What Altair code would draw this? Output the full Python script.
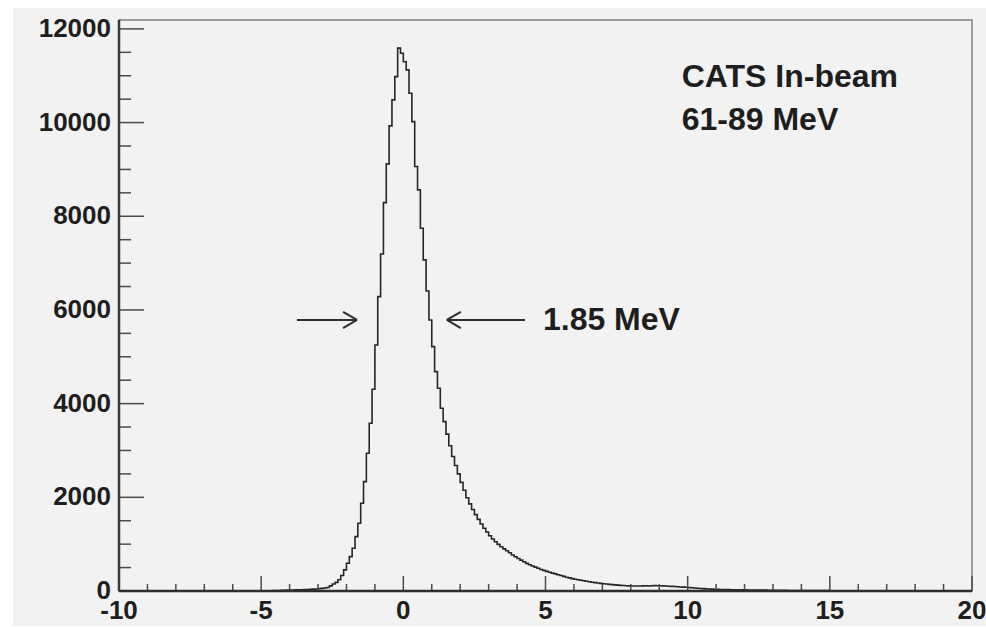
import altair as alt
import numpy as np
import pandas as pd

FONT = "Liberation Sans"

# Energy spectrum, 0.1 MeV bins, first bin starts at -5.0 MeV
bin_start = -5.0
bin_width = 0.1
counts = [
    3, 4, 5, 6, 8, 10, 12, 14, 16, 18,                                   # -5.0 .. -4.1
    20, 22, 24, 26, 28, 30, 33, 36, 40, 44,                              # -4.0 .. -3.1
    50, 56, 64, 76, 110, 150, 185, 240, 330, 450,                        # -3.0 .. -2.1
    592, 733, 912, 1160, 1446, 1873, 2334, 2940, 3581, 4307,             # -2.0 .. -1.1
    5253, 6285, 7196, 8292, 9118, 9930, 10485, 10982, 11590, 11480,      # -1.0 .. -0.1
    11300, 11125, 10627, 10021, 9061, 8563, 7745, 7068, 6406, 5787,      #  0.0 ..  0.9
    5217, 4683, 4328, 3901, 3615, 3350, 3100, 2870, 2680, 2500,          #  1.0 ..  1.9
    2320, 2150, 1990, 1860, 1740, 1630, 1530, 1430, 1340, 1260,          #  2.0 ..  2.9
    1180, 1110, 1050, 995, 945, 900, 860, 815, 770, 730,                 #  3.0 ..  3.9
    695, 660, 625, 590, 560, 535, 510, 485, 460, 440,                    #  4.0 ..  4.9
    420, 400, 382, 365, 348, 330, 312, 295, 280, 265,                    #  5.0 ..  5.9
    252, 240, 228, 218, 208, 198, 188, 178, 170, 162,                    #  6.0 ..  6.9
    155, 148, 142, 136, 130, 125, 120, 116, 113, 110,                    #  7.0 ..  7.9
    108, 107, 108, 106, 109, 111, 108, 112, 114, 112,                    #  8.0 ..  8.9
    113, 110, 107, 103, 99, 95, 90, 86, 82, 79,                          #  9.0 ..  9.9
    76, 70, 64, 58, 54, 50, 46, 42, 40, 37,                              # 10.0 .. 10.9
    35, 33, 32, 30, 29, 28, 27, 26, 25, 24,                              # 11.0 .. 11.9
    23, 22, 22, 21, 20, 19, 18, 18, 17, 16,                              # 12.0 .. 12.9
    15, 15, 14, 13, 13, 12, 12, 11, 11, 10,                              # 13.0 .. 13.9
    10, 9, 9, 9, 8, 8, 8, 7, 7, 7,                                       # 14.0 .. 14.9
]

x_major = [-10, -5, 0, 5, 10, 15, 20]
x_minor = [-9, -8, -7, -6, -4, -3, -2, -1, 1, 2, 3, 4, 6, 7, 8, 9,
           11, 12, 13, 14, 16, 17, 18, 19]
y_major = [0, 2000, 4000, 6000, 8000, 10000, 12000]
y_minor = [500, 1000, 1500, 2500, 3000, 3500, 4500, 5000, 5500, 6500, 7000,
           7500, 8500, 9000, 9500, 10500, 11000, 11500]

# FWHM arrows (data units): shaft start, tip, head length, head half-height
arrow_y = 5786
left_arrow = (-3.74, -1.63)
right_arrow = (4.28, 1.53)
head_dx = 0.49
head_dy = 175

labels_text = ["1.85 MeV", "CATS In-beam", "61-89 MeV"]
labels_x = [4.91, 9.79, 9.79]
labels_y = [5573, 10762, 9843]

W, H = 853, 571
INK = "#1e1e1e"
TICK = "#4a4a4a"

# ---- histogram outline (step curve) ----
edges = np.round(bin_start + bin_width * np.arange(len(counts)), 2)
hx = [-10.0] + list(edges) + [round(edges[-1] + bin_width, 2), 20.0]
hy = [0] + counts + [0, 0]
hist_df = pd.DataFrame({"energy": hx, "count": hy})

xscale = alt.Scale(domain=[-10, 20], nice=False, zero=False)
yscale = alt.Scale(domain=[0, 12190], nice=False, zero=True)

hist = alt.Chart(hist_df).mark_line(
    interpolate="step-after", color="#262626", strokeWidth=1.6
).encode(
    x=alt.X("energy:Q", scale=xscale, axis=None),
    y=alt.Y("count:Q", scale=yscale, axis=None),
)

# ---- inward-pointing ticks ----
def yticks(vals, length):
    return alt.Chart(pd.DataFrame({"yt": vals})).mark_rule(
        color=TICK, strokeWidth=1.5
    ).encode(
        y=alt.Y("yt:Q", scale=yscale, axis=None),
        x=alt.value(0), x2=alt.value(length),
    )

def xticks(vals, length):
    return alt.Chart(pd.DataFrame({"xt": vals})).mark_rule(
        color=TICK, strokeWidth=1.5
    ).encode(
        x=alt.X("xt:Q", scale=xscale, axis=None),
        y=alt.value(H), y2=alt.value(H - length),
    )

# ---- tick labels ----
ylab_df = pd.DataFrame({"v": y_major, "s": [str(v) for v in y_major]})
ylabels = alt.Chart(ylab_df).mark_text(
    align="right", baseline="middle", font=FONT, fontSize=26,
    fontWeight="bold", color=INK
).encode(
    y=alt.Y("v:Q", scale=yscale, axis=None),
    x=alt.value(-8),
    text="s:N",
)
xlab_df = pd.DataFrame({"v": x_major, "s": [str(v) for v in x_major]})
xlabels = alt.Chart(xlab_df).mark_text(
    align="center", baseline="top", font=FONT, fontSize=26,
    fontWeight="bold", color=INK
).encode(
    x=alt.X("v:Q", scale=xscale, axis=None),
    y=alt.value(H + 7),
    text="s:N",
)

# ---- axis lines ----
one = pd.DataFrame({"k": [0]})
y_axis_line = alt.Chart(one).mark_rule(color="#3a3a3a", strokeWidth=2.5).encode(
    x=alt.value(0), y=alt.value(0), y2=alt.value(H))
x_axis_line = alt.Chart(one).mark_rule(color="#2e2e2e", strokeWidth=2.5).encode(
    x=alt.value(0), x2=alt.value(W), y=alt.value(H))

# ---- arrows ----
seg_rows = []
for start, tip in (left_arrow, right_arrow):
    back = tip - head_dx if tip > start else tip + head_dx
    seg_rows.append({"x": start, "x2": tip, "y": arrow_y, "y2": arrow_y})
    seg_rows.append({"x": back, "x2": tip, "y": arrow_y + head_dy, "y2": arrow_y})
    seg_rows.append({"x": back, "x2": tip, "y": arrow_y - head_dy, "y2": arrow_y})
arrows = alt.Chart(pd.DataFrame(seg_rows)).mark_rule(
    color="#2e2e2e", strokeWidth=2
).encode(
    x=alt.X("x:Q", scale=xscale, axis=None), x2="x2:Q",
    y=alt.Y("y:Q", scale=yscale, axis=None), y2="y2:Q",
)

texts = alt.Chart(pd.DataFrame({"t": labels_text, "x": labels_x, "y": labels_y})).mark_text(
    align="left", baseline="alphabetic", font=FONT, fontSize=32,
    fontWeight="bold", color=INK
).encode(
    x=alt.X("x:Q", scale=xscale, axis=None),
    y=alt.Y("y:Q", scale=yscale, axis=None),
    text="t:N",
)

# white page edge around the grey canvas
edge_left = alt.Chart(one).mark_rect(color="#ffffff").encode(
    x=alt.value(-119), x2=alt.value(-106), y=alt.value(-20), y2=alt.value(H + 36))
edge_top = alt.Chart(one).mark_rect(color="#ffffff").encode(
    x=alt.value(-119), x2=alt.value(W + 14), y=alt.value(-20), y2=alt.value(-12))
edge_bottom = alt.Chart(one).mark_rect(color="#ffffff").encode(
    x=alt.value(-119), x2=alt.value(W + 14), y=alt.value(H + 35), y2=alt.value(H + 36))

chart = alt.layer(
    hist,
    yticks(y_minor, 12), yticks(y_major, 25),
    xticks(x_minor, 7), xticks(x_major, 15),
    y_axis_line, x_axis_line,
    ylabels, xlabels,
    arrows, texts,
    edge_left, edge_top, edge_bottom,
).properties(
    width=W, height=H,
    padding={"left": 119, "top": 20, "right": 14, "bottom": 36},
    autosize=alt.AutoSizeParams(type="none"),
    background="#f2f2f2",
).configure_view(
    stroke="#9c9c9c", strokeWidth=2
)

chart.save("out.html", embed_options={"renderer": "svg", "actions": False})
